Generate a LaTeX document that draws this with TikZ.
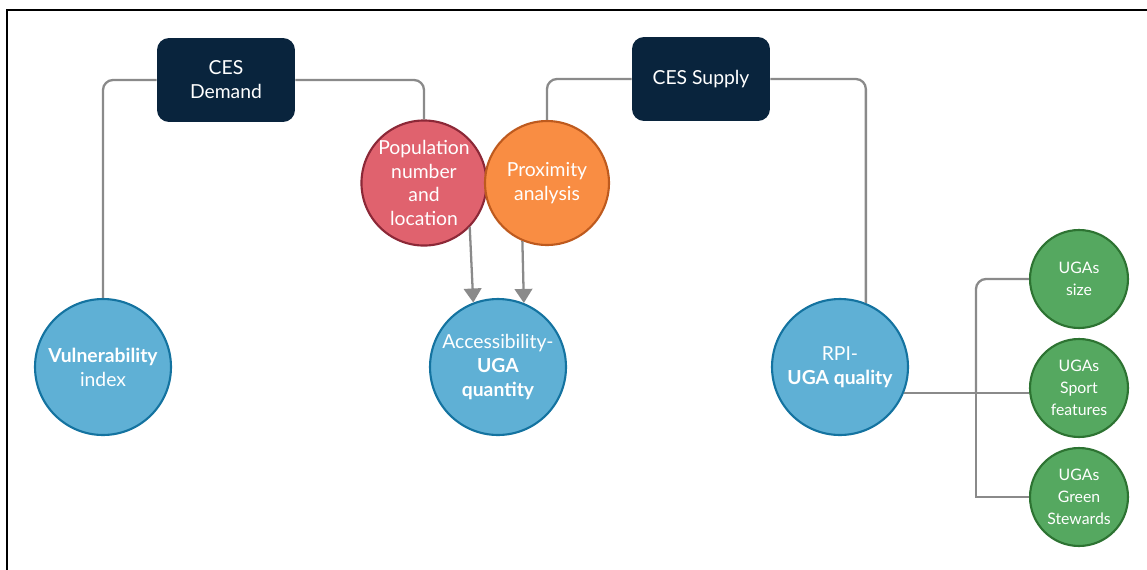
\documentclass[tikz,border=0pt]{standalone}
\usepackage{fontspec}
\setmainfont{Lato}
\usepackage{tikz}
\usetikzlibrary{arrows.meta}

\definecolor{navy}{RGB}{9,36,61}
\definecolor{popfill}{RGB}{224,98,110}
\definecolor{popline}{RGB}{140,40,55}
\definecolor{proxfill}{RGB}{249,141,67}
\definecolor{proxline}{RGB}{190,90,30}
\definecolor{idxfill}{RGB}{95,176,213}
\definecolor{idxline}{RGB}{20,115,160}
\definecolor{ugafill}{RGB}{85,168,96}
\definecolor{ugaline}{RGB}{45,115,50}
\definecolor{link}{RGB}{138,138,138}

\begin{document}
\begin{tikzpicture}[x=0.02cm, y=-0.02cm,
    every node/.style={text=white, align=center, font=\fontsize{11}{13.6}\selectfont},
    cesbox/.style={fill=navy, rounded corners=0.24cm, minimum width=2.76cm, minimum height=1.68cm},
    ball/.style={circle, line width=1.2pt, inner sep=0pt},
    bigball/.style={ball, minimum size=2.72cm, fill=idxfill, draw=idxline},
    midball/.style={ball, minimum size=2.48cm},
    smallball/.style={ball, minimum size=1.96cm, fill=ugafill, draw=ugaline,
      font=\fontsize{9}{12.5}\selectfont},
    link/.style={draw=link, line width=1.3pt},
    feed/.style={link, -{Triangle[width=10pt, length=8pt]}}]
  \useasboundingbox (0,0) rectangle (1147,569);
  \draw [line width=1.4pt] (7,590) |- (1170,10);

  \node [cesbox] (dem) at (226,80) {CES\\Demand};
  \node [cesbox] (sup) at (701,79) {CES Supply};
  \node [midball, fill=popfill, draw=popline] (pop) at (424,183) {Population\\number\\and\\location};
  \node [midball, fill=proxfill, draw=proxline] (prox) at (547,183) {Proximity\\analysis};
  \node [bigball] (vul) at (103,367) {\textbf{Vulnerability}\\index};
  \node [bigball] (acc) at (498,367) {Accessibility-\\\textbf{UGA}\\\textbf{quantity}};
  \node [bigball] (rpi) at (840,367) {RPI-\\\textbf{UGA quality}};
  \node [smallball] (siz) at (1079,279) {UGAs\\size};
  \node [smallball] (spo) at (1079,388) {UGAs\\Sport\\features};
  \node [smallball] (ste) at (1079,497) {UGAs\\Green\\Stewards};
  \coordinate (bus) at (976,393);

  \draw [link, rounded corners=0.2cm] (dem.west) -| (vul.north);
  \draw [link, rounded corners=0.2cm] (dem.east) -| (pop.north);
  \draw [link, rounded corners=0.2cm] (sup.west) -| (prox.north);
  \draw [link, rounded corners=0.2cm] (sup.east) -| (rpi.68);
  \path
  (pop.-44) edge [feed] (acc.111)
  (prox.-113) edge [feed] (acc.68);

  \draw [link] (rpi.-22) -- (rpi.-22 -| spo.west);
  \draw [link, rounded corners=0.2cm] (siz.west) -| (bus);
  \draw [link] (bus) |- (ste.west);
\end{tikzpicture}
\end{document}
